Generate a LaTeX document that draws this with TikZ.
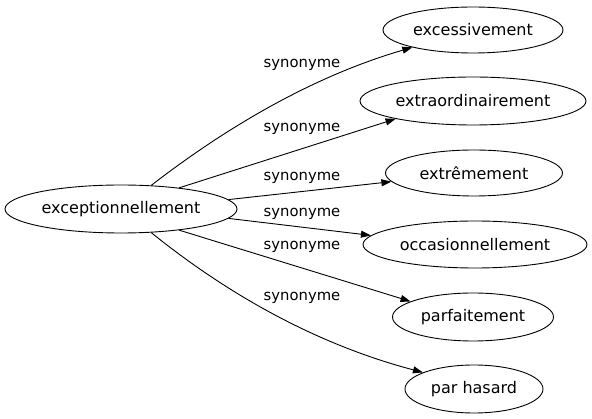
\documentclass[tikz,border=0pt]{standalone}
\usepackage{fontspec}
\setmainfont{DejaVu Sans}
\usetikzlibrary{arrows.meta,shapes.geometric}
\begin{document}
\begin{tikzpicture}[x=1pt,y=-1pt,
  word/.style={draw, ellipse, inner sep=0pt, font=\fontsize{16}{19}\selectfont, line width=0.9pt},
  rel/.style={font=\fontsize{14.8}{17}\selectfont, inner sep=0pt},
  syn/.style={draw, line width=0.9pt, -{Triangle[length=10pt,width=7pt]}}]
\useasboundingbox (0,0) rectangle (592,419);
\node[word, minimum width=232pt, minimum height=48pt] (src) at (121,209) {exceptionnellement};
\node[word, minimum width=180pt, minimum height=46pt] (e1) at (473,30) {excessivement};
\node[word, minimum width=226pt, minimum height=48pt] (e2) at (473,101) {extraordinairement};
\node[word, minimum width=177pt, minimum height=46pt] (e3) at (474,173) {extrêmement};
\node[word, minimum width=224pt, minimum height=47pt] (e4) at (475,244.5) {occasionnellement};
\node[word, minimum width=161pt, minimum height=48pt] (e5) at (473,317) {parfaitement};
\node[word, minimum width=138pt, minimum height=48pt] (e6) at (474,389) {par hasard};
\node[rel] (l1) at (302,65) {synonyme};
\node[rel] (l2) at (302,129) {synonyme};
\node[rel] (l3) at (302,178) {synonyme};
\node[rel] (l4) at (302,214) {synonyme};
\node[rel] (l5) at (302,247) {synonyme};
\node[rel] (l6) at (302,298) {synonyme};
\draw[syn] (src.38) .. controls (210,140) and (300,80) .. (e1.196.4);
\draw[syn] (src.20.4) -- (e2.193.6);
\draw[syn] (src.5.9) -- (e3.186.3);
\draw[syn] (src.-5.9) -- (e4.175);
\draw[syn] (src.-20) -- (e5.166.2);
\draw[syn] (src.-38) .. controls (210,280) and (300,340) .. (e6.162.5);
\end{tikzpicture}
\end{document}
